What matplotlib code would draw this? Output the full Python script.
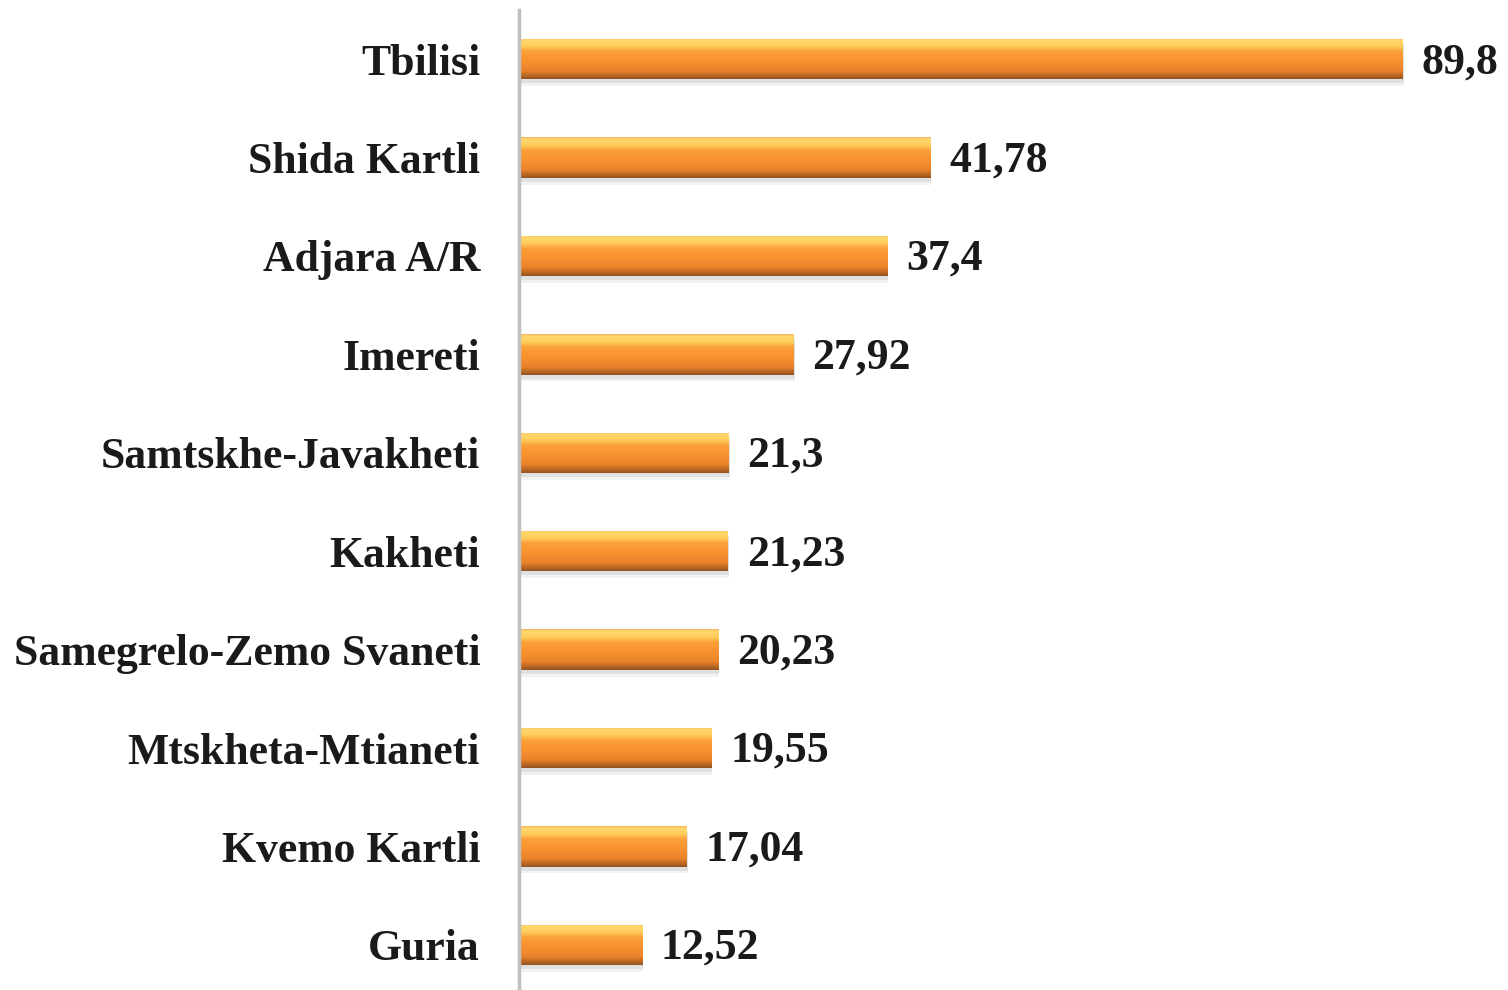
import matplotlib
matplotlib.use("Agg")
import matplotlib.pyplot as plt
import numpy as np
from matplotlib.colors import LinearSegmentedColormap

regions = ["Tbilisi", "Shida Kartli", "Adjara A/R", "Imereti", "Samtskhe-Javakheti",
           "Kakheti", "Samegrelo-Zemo Svaneti", "Mtskheta-Mtianeti", "Kvemo Kartli", "Guria"]
values = [89.8, 41.78, 37.4, 27.92, 21.3, 21.23, 20.23, 19.55, 17.04, 12.52]
value_labels = ["89,8", "41,78", "37,4", "27,92", "21,3", "21,23", "20,23", "19,55", "17,04", "12,52"]

W, H = 1508, 990
fig = plt.figure(figsize=(W / 100, H / 100), dpi=100)
ax = fig.add_axes([519 / W, -4 / H, 1 - 519 / W, 984 / H])

font = dict(family="Liberation Serif", fontweight="bold", color="#1a1a1a")

y = np.arange(len(regions))
bh = 0.41
# soft shadow
for dy, a in [(0.04, 0.07), (0.07, 0.05)]:
    ax.barh(y + dy, values, height=bh, left=0.1, color="#000000", alpha=a, zorder=1)
bars = ax.barh(y, values, height=bh, color="#f7922e", zorder=2)

cmap = LinearSegmentedColormap.from_list("bevel", [
    (0.0, "#f5b060"), (0.05, "#ffd86c"), (0.2, "#ffcc5a"), (0.32, "#fca03a"),
    (0.55, "#f8922f"), (0.8, "#e9822a"), (0.9, "#c06a22"), (1.0, "#915222")])
grad = np.linspace(0, 1, 256).reshape(-1, 1)
for b in bars:
    x0, yb = b.get_x(), b.get_y()
    w, h = b.get_width(), b.get_height()
    im = ax.imshow(grad, cmap=cmap, aspect="auto", extent=(x0, x0 + w, yb + h, yb),
                   zorder=3, interpolation="bilinear")
    im.set_clip_path(b)

ax.set_xlim(0, (W - 519) / 9.844)
ax.set_ylim(len(regions) - 0.5, -0.5)
ax.set_yticks(y)
ax.set_yticklabels(regions, fontsize=31.5, **font)
ax.tick_params(axis="y", length=0, pad=28)
ax.set_xticks([])
for s in ["top", "right", "bottom"]:
    ax.spines[s].set_visible(False)
ax.spines["left"].set_color("#bfbfbf")
ax.spines["left"].set_linewidth(2.5)
ax.spines["left"].set_zorder(5)

for yi, v, lab in zip(y, values, value_labels):
    ax.text(v + 1.9, yi + 0.03, lab, va="center", ha="left", fontsize=31.5, **font)

fig.savefig("out.png", dpi=100)
